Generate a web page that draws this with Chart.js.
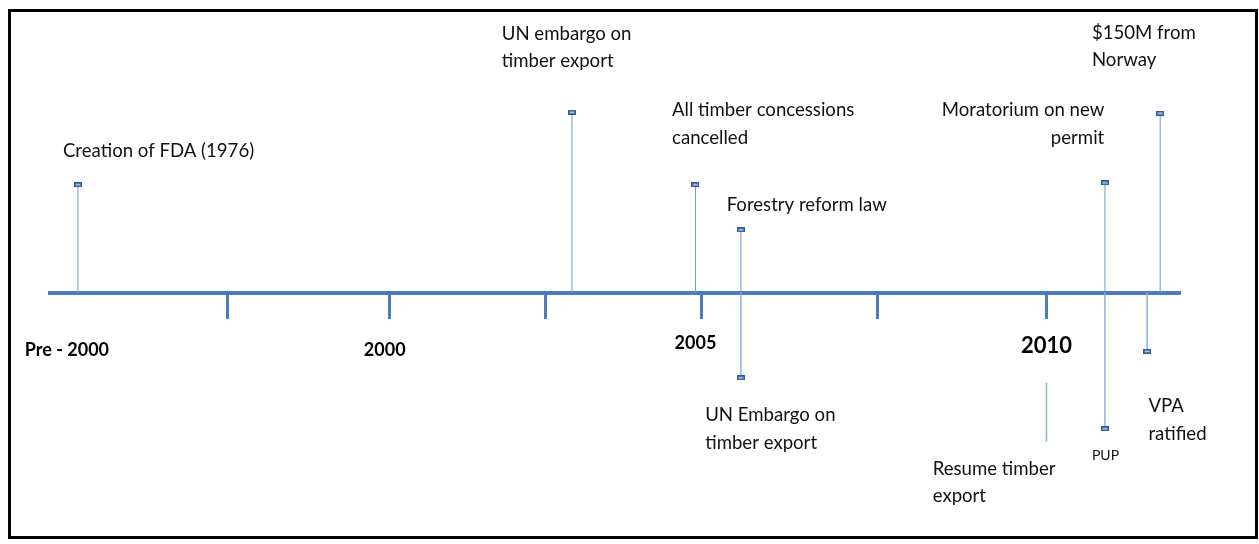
<!DOCTYPE html>
<html>
<head>
<meta charset="utf-8">
<title>Forestry timeline</title>
<script src="https://cdn.jsdelivr.net/npm/chart.js@4.4.1/dist/chart.umd.min.js"></script>
<style>
    html, body { margin: 0; padding: 0; background: #fff; }
    #wrap { position: relative; width: 1259px; height: 544px; }
</style>
</head>
<body>
<div id="wrap">
    <canvas id="timeline" width="1259" height="544"></canvas>
</div>
<script>
// events: where they sit on the time line and how far the stem goes (0 = on the line)
var eventNames = ['Creation of FDA', 'UN embargo', 'Concessions cancelled', 'Forestry reform law',
    'UN Embargo', 'Resume timber export', 'Moratorium', 'PUP', 'VPA ratified', '$150M from Norway'];
var eventYears = [1995.2, 2002.8, 2004.7, 2005.4, 2005.4, 2010.1, 2011.0, 2011.0, 2011.65, 2011.85];
var eventBase = [0, 0, 0, 0, 0, -9.2, 0, 0, 0, 0];
var eventEnd = [11.0, 18.4, 11.0, 6.4, -8.7, -15.2, 11.2, -13.9, -6.0, 18.3];

// marks on the axis and the period labels under it
var tickYears = [1997.5, 2000, 2002.4, 2004.8, 2007.5, 2010.1];
var periodYears = [1995.03, 1999.92, 2004.7, 2010.1];
var periodLabels = ['Pre - 2000', '2000', '2005', '2010'];

// event captions
var noteText = [
    ['Creation of FDA (1976)'],
    ['UN embargo on', 'timber export'],
    ['All timber concessions', 'cancelled'],
    ['Forestry reform law'],
    ['$150M from', 'Norway'],
    ['Moratorium on new', 'permit'],
    ['UN Embargo on', 'timber export'],
    ['Resume timber', 'export'],
    ['PUP'],
    ['VPA', 'ratified']
];
var noteYears = [1994.97, 2001.72, 2004.34, 2005.18, 2010.8, 2010.99, 2004.85, 2008.35, 2010.8, 2011.67];
var noteHeights = [14.5, 26.4, 18.6, 8.9, 26.5, 18.6, -12.5, -18.0, -16.6, -11.6];

var axisBlue = '#4a7ebb';
var stemBlue = '#7295cd';

// small box marker drawn at the end of each stem
var marker = document.createElement('canvas');
marker.width = 8;
marker.height = 5;
var mctx = marker.getContext('2d');
mctx.fillStyle = '#4f81bd';
mctx.fillRect(0, 0, 8, 5);
mctx.strokeStyle = '#35598a';
mctx.lineWidth = 1;
mctx.strokeRect(0.5, 0.5, 7, 4);
mctx.fillStyle = '#c6d6ee';
mctx.fillRect(2, 2, 4, 1);

var datasets = [];
for (var i = 0; i < eventYears.length; i++) {
    var hasMarker = eventBase[i] === 0;
    var below = eventEnd[i] < 0;
    datasets.push({
        label: eventNames[i],
        data: [{x: eventYears[i], y: eventBase[i]}, {x: eventYears[i], y: eventEnd[i]}],
        borderColor: below ? '#8fb0dc' : stemBlue,
        borderWidth: below ? 1.5 : 1,
        pointStyle: marker,
        pointRadius: hasMarker ? [0, 4] : [0, 0],
        pointHoverRadius: 0,
        tension: 0
    });
}

var allTicks = tickYears.concat(periodYears.filter(function (v) {
    return tickYears.indexOf(v) < 0;
})).sort(function (a, b) { return a - b; });

var notesPlugin = {
    id: 'notes',
    beforeDraw: function (chart) {
        var ctx = chart.ctx;
        ctx.save();
        ctx.fillStyle = '#fff';
        ctx.fillRect(0, 0, chart.width, chart.height);
        ctx.restore();
    },
    afterDraw: function (chart) {
        var ctx = chart.ctx;
        var xs = chart.scales.x;
        var ys = chart.scales.y;
        ctx.save();
        ctx.fillStyle = '#111';
        ctx.textBaseline = 'middle';
        for (var i = 0; i < noteText.length; i++) {
            var x = xs.getPixelForValue(noteYears[i]);
            var y = ys.getPixelForValue(noteHeights[i]);
            ctx.font = noteText[i][0] === 'PUP' ? '14px Lato' : '18.6px Lato';
            ctx.textAlign = noteText[i][0].indexOf('Moratorium') === 0 ? 'right' : 'left';
            for (var k = 0; k < noteText[i].length; k++) {
                ctx.fillText(noteText[i][k], x, y + k * 27.5);
            }
        }
        // frame round the figure
        ctx.strokeStyle = '#000';
        ctx.lineWidth = 3;
        ctx.strokeRect(9.5, 10.5, 1247, 527);
        ctx.restore();
    }
};

Chart.defaults.font.family = 'Lato';

new Chart(document.getElementById('timeline'), {
    type: 'line',
    data: {datasets: datasets},
    plugins: [notesPlugin],
    options: {
        responsive: false,
        animation: false,
        devicePixelRatio: 1,
        layout: {padding: {left: 50, right: 79, top: 0, bottom: 0}},
        plugins: {legend: {display: false}, tooltip: {enabled: false}},
        scales: {
            x: {
                type: 'linear',
                min: 1994.77,
                max: 2012.155,
                position: {y: 0},
                afterBuildTicks: function (axis) {
                    axis.ticks = allTicks.map(function (v) { return {value: v}; });
                },
                ticks: {
                    autoSkip: false,
                    maxRotation: 0,
                    padding: 23,
                    color: '#000',
                    callback: function (value) {
                        var idx = periodYears.indexOf(value);
                        return idx >= 0 ? periodLabels[idx] : '';
                    },
                    font: function (c) {
                        var lbl = c.tick ? periodLabels[periodYears.indexOf(c.tick.value)] : '';
                        if (lbl === '2010') {
                            return {size: 22, weight: 'bold', lineHeight: 0.6};
                        }
                        if (lbl === '2005') {
                            return {size: 18, weight: 'bold', lineHeight: 0.4};
                        }
                        return {size: 18, weight: 'bold', lineHeight: 1.15};
                    }
                },
                grid: {
                    drawOnChartArea: false,
                    tickLength: 24,
                    tickWidth: 3,
                    tickColor: function (c) {
                        return c.tick && tickYears.indexOf(c.tick.value) >= 0 ? axisBlue : 'rgba(0,0,0,0)';
                    }
                },
                border: {color: axisBlue, width: 4}
            },
            y: {
                type: 'linear',
                display: false,
                min: -25.1,
                max: 29.3
            }
        }
    }
});
</script>
</body>
</html>
